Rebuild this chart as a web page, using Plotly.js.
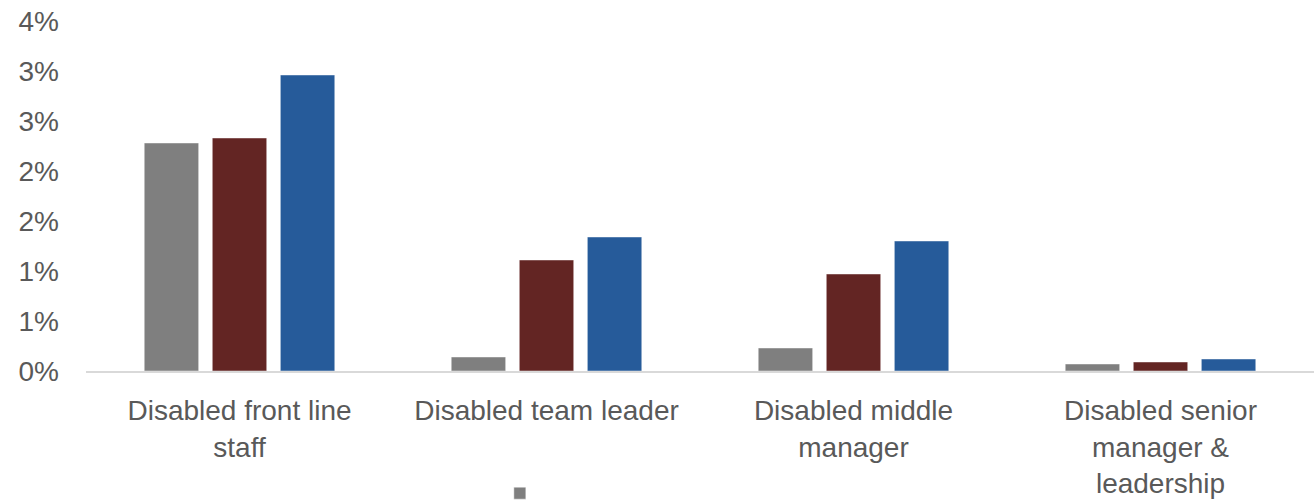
<!DOCTYPE html>
<html>
<head>
<meta charset="utf-8">
<script src="https://cdn.plot.ly/plotly-3.0.1.min.js"></script>
<style>
  html, body { margin: 0; padding: 0; background: #ffffff; }
  #chart { width: 1314px; height: 501px; }
</style>
</head>
<body>
<div id="chart"></div>
<script>
// Categories (x axis)
const categories = [
  "Disabled front line<br>staff",
  "Disabled team leader",
  "Disabled middle<br>manager",
  "Disabled senior<br>manager &<br>leadership"
];

// Series values, in percent
const seriesGrey = [2.28, 0.14, 0.23, 0.07];
const seriesRed  = [2.33, 1.11, 0.97, 0.09];
const seriesBlue = [2.96, 1.34, 1.30, 0.12];

// Y tick positions (percent) and labels as printed
const yTickVals = [0, 0.5, 1, 1.5, 2, 2.5, 3, 3.5];
const yTickText = ["0%", "1%", "1%", "2%", "2%", "3%", "3%", "4%"];

const font = "Liberation Sans, Arial, sans-serif";
const textColor = "#595959";
const edge = { color: "rgba(255,255,255,0.45)", width: 1 };

const traces = [
  { type: "bar", x: categories, y: seriesGrey, name: "", showlegend: true,
    marker: { color: "#7F7F7F", line: edge }, hoverinfo: "y" },
  { type: "bar", x: categories, y: seriesRed, name: "", showlegend: false,
    marker: { color: "#632523", line: edge }, hoverinfo: "y" },
  { type: "bar", x: categories, y: seriesBlue, name: "", showlegend: false,
    marker: { color: "#265B9A", line: edge }, hoverinfo: "y" }
];

const layout = {
  width: 1314,
  height: 501,
  margin: { l: 86, r: 0, t: 21, b: 130, pad: 0, autoexpand: false },
  paper_bgcolor: "#ffffff",
  plot_bgcolor: "#ffffff",
  font: { family: font, color: textColor, size: 28 },
  barmode: "group",
  bargap: 0.335,
  bargroupgap: 0.2,
  showlegend: true,
  legend: {
    orientation: "v",
    x: 0.337, y: -0.349, xanchor: "left", yanchor: "middle",
    font: { size: 12, color: textColor },
    bgcolor: "rgba(0,0,0,0)"
  },
  xaxis: {
    type: "category",
    showgrid: false,
    zeroline: false,
    showline: true,
    linecolor: "#D9D9D9",
    linewidth: 1.5,
    ticks: "",
    tickangle: 0,
    tickfont: { family: font, size: 28, color: textColor },
    ticklabelstandoff: 14,
    automargin: false
  },
  yaxis: {
    range: [0, 3.5],
    tickmode: "array",
    tickvals: yTickVals,
    ticktext: yTickText,
    showgrid: false,
    zeroline: false,
    showline: false,
    ticks: "",
    tickfont: { family: font, size: 28, color: textColor },
    ticklabelstandoff: 26,
    automargin: false
  }
};

Plotly.newPlot("chart", traces, layout, { displayModeBar: false, staticPlot: true });
</script>
</body>
</html>
